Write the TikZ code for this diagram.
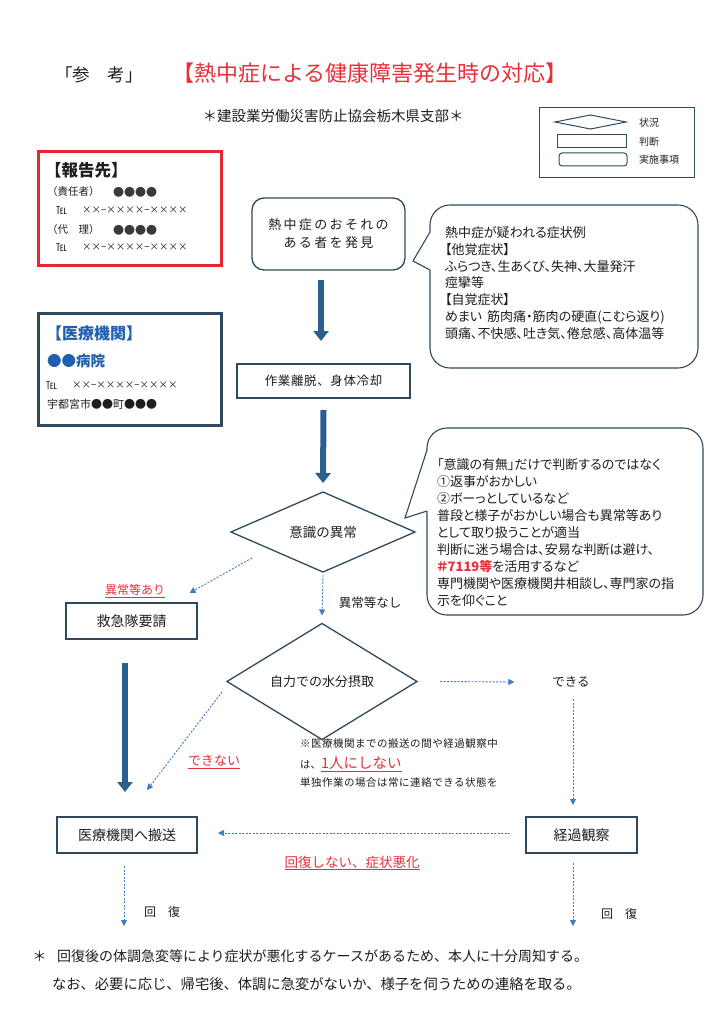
\documentclass[tikz,border=0pt]{standalone}
\usepackage{fontspec}
\setmainfont{Noto Sans CJK JP}
\newfontfamily\pfont[RawFeature=+palt]{Noto Sans CJK JP}
\newfontfamily\wfont[LetterSpace=18]{Noto Sans CJK JP}
\newfontfamily\mfont[LetterSpace=5]{Noto Sans CJK JP}
\usetikzlibrary{arrows.meta,shapes.geometric}
\definecolor{tred}{HTML}{E8303A}
\definecolor{rboxred}{HTML}{E8262F}
\definecolor{tblue}{HTML}{1F5FAF}
\definecolor{frame}{HTML}{2F4A5F}
\definecolor{arrowblue}{HTML}{2B5F8E}
\definecolor{dashblue}{HTML}{3D7DBF}
\definecolor{ink}{HTML}{1E1E1E}
\definecolor{dotgrey}{HTML}{3A3A3A}
\newcommand{\fsz}[2]{\fontsize{#1}{#2}\selectfont}
\begin{document}
\begin{tikzpicture}[x=1pt,y=-1pt,
  every node/.style={inner sep=0pt, outer sep=0pt, text=ink},
  box/.style={draw=frame, line width=1.3pt, fill=white},
  dia/.style={diamond, draw=frame, line width=1.3pt, fill=white},
  bub/.style={draw=frame, line width=1.1pt, fill=white, rounded corners=20pt},
  bubline/.style={draw=frame, line width=1.1pt},
  thickarr/.style={draw=arrowblue, line width=6pt, -{Triangle[width=15pt,length=10pt]}},
  dasharr/.style={draw=dashblue, line width=0.9pt, dash pattern=on 2pt off 1.5pt, -{Triangle[width=6pt,length=6pt]}},
  redlbl/.style={text=tred}
]
\useasboundingbox (0,0) rectangle (726,1024);
\fill[white] (0,0) rectangle (726,1024);

% title
\node[anchor=west, font=\fsz{17.5}{20}] (sanko) at (55,75) {「参　考」};
\node[anchor=west, redlbl, font=\fsz{22}{25}] (title) at (172,73) {【熱中症による健康障害発生時の対応】};
\node[font=\fsz{14.5}{17}] (org) at (333,116) {＊建設業労働災害防止協会栃木県支部＊};

% legend
\node[draw=frame, line width=1pt, minimum width=155pt, minimum height=70pt] (legend) at (616.5,143) {};
\node[diamond, draw=frame, line width=1pt, minimum width=71pt, minimum height=14pt] (lgd) at (590.5,122) {};
\node[draw=frame, line width=1pt, minimum width=69pt, minimum height=13pt] (lgr) at (591.5,141.5) {};
\node[draw=frame, line width=1pt, rounded corners=3pt, minimum width=68pt, minimum height=13pt] (lgs) at (593,159.5) {};
\node[anchor=west, font=\fsz{10}{12}] (lgt1) at (639,123) {状況};
\node[anchor=west, font=\fsz{10}{12}] (lgt2) at (639,142) {判断};
\node[anchor=west, font=\fsz{10}{12}] (lgt3) at (639,160) {実施事項};

% report box
\node[draw=rboxred, line width=3pt, minimum width=183pt, minimum height=113pt] (report) at (129.5,208.5) {};
\node[anchor=west, font=\bfseries\fsz{16.5}{18}] (rh) at (45,170) {【報告先】};
\node[anchor=west, font=\fsz{10.5}{12}] (r1) at (47,192) {（責任者）};
\node[anchor=west, text=dotgrey, font=\fsz{11}{12}] (r1d) at (113,192) {●●●●};
\node[anchor=west, font=\fsz{11}{12}] (r1t) at (56,210) {℡};
\node[anchor=west, font=\fsz{9.5}{10}] (r1n) at (82,210) {××−××××−××××};
\node[anchor=west, font=\fsz{10.5}{12}] (r2) at (47,230) {（代　理）};
\node[anchor=west, text=dotgrey, font=\fsz{11}{12}] (r2d) at (113,230) {●●●●};
\node[anchor=west, font=\fsz{11}{12}] (r2t) at (56,247) {℡};
\node[anchor=west, font=\fsz{9.5}{10}] (r2n) at (82,247) {××−××××−××××};

% medical box
\node[draw=frame, line width=3pt, minimum width=183pt, minimum height=112pt] (medical) at (129.5,369) {};
\node[anchor=west, text=tblue, font=\bfseries\fsz{16}{18}] (mh) at (46,333) {【医療機関】};
\node[anchor=west, text=tblue, font=\bfseries\fsz{14.5}{16}] (mn) at (47,361) {●●病院};
\node[anchor=west, font=\fsz{11}{12}] (mt) at (46,385) {℡};
\node[anchor=west, font=\fsz{9.5}{10}] (mnum) at (72,385) {××−××××−××××};
\node[anchor=west, font=\fsz{11}{12}] (ma) at (47,404) {宇都宮市●●町●●●};

% bubble 1
\draw[bub] (430,205) rectangle (698,368);
\fill[white] (433,232) -- (428,232) -- (413,261) -- (428,270) -- (433,270) -- cycle;
\draw[bubline] (430,232) -- (413,261) -- (430,270);
\node[anchor=west, align=left, font=\pfont\fsz{13}{16.7}] (sym) at (445,283)
 {熱中症が疑われる症状例\\【他覚症状】\\ふらつき、生あくび、失神、大量発汗\\痙攣等\\【自覚症状】\\めまい\hspace{5pt}筋肉痛・筋肉の硬直(こむら返り)\\頭痛、不快感、吐き気、倦怠感、高体温等};

% bubble 2
\draw[bub] (427,428) rectangle (703,615);
\fill[white] (430,450) -- (425,450) -- (405,518) -- (425,511) -- (430,511) -- cycle;
\draw[bubline] (427,450) -- (405,518) -- (427,511);
\node[anchor=west, align=left, font=\pfont\fsz{13}{17}] (ishiki) at (437,532.5)
 {「意識の有無」だけで判断するのではなく\\①返事がおかしい\\②ボーっとしているなど\\普段と様子がおかしい場合も異常等あり\\として取り扱うことが適当\\判断に迷う場合は、安易な判断は避け、\\{\color{tred}\bfseries ＃7119等}を活用するなど\\専門機関や医療機関井相談し、専門家の指\\示を仰ぐこと};

% flow nodes
\node[box, rounded corners=12pt, minimum width=153pt, minimum height=72pt, align=center, font=\wfont\fsz{13}{18}] (start) at (328.5,234) {熱中症のおそれの\\ある者を発見};
\node[box, minimum width=173pt, minimum height=34pt, font=\mfont\fsz{12.5}{15}] (cool) at (323.5,381) {作業離脱、身体冷却};
\node[dia, minimum width=184pt, minimum height=80pt, font=\fsz{13.5}{16}] (consc) at (323,532) {意識の異常};
\node[box, minimum width=131pt, minimum height=36pt, font=\fsz{14}{16}] (kyu) at (131.5,621) {救急隊要請};
\node[dia, minimum width=190pt, minimum height=77pt, font=\fsz{13}{15}] (water) at (322,681.5) {自力での水分摂取};
\node[box, minimum width=140pt, minimum height=36pt, font=\fsz{14}{16}] (hanso) at (127,835) {医療機関へ搬送};
\node[box, minimum width=111pt, minimum height=36pt, font=\fsz{14}{16}] (keika) at (581.5,835) {経過観察};

% labels
\node[redlbl, font=\fsz{12}{14}] (ari) at (135,591) {\underline{異常等あり}};
\node[font=\fsz{12.5}{14}] (nashi) at (370,603) {異常等なし};
\node[font=\fsz{12.5}{14}] (dekiru) at (571,682) {できる};
\node[redlbl, font=\fsz{13}{15}] (dekinai) at (214,762) {\underline{できない}};
\node[anchor=west, font=\mfont\fsz{10.5}{12}] (note1) at (300,744) {※医療機関までの搬送の間や経過観察中};
\node[anchor=west, font=\fsz{10.5}{12}] (note2) at (300,764) {は、{\color{tred}\fsz{14.5}{16}\underline{1人にしない}}};
\node[anchor=west, font=\mfont\fsz{10.5}{12}] (note3) at (300,782) {単独作業の場合は常に連絡できる状態を};
\node[redlbl, font=\fsz{13.5}{15}] (worse) at (352,863) {\underline{回復しない、症状悪化}};
\node[font=\fsz{12}{14}] (rec1) at (162,912) {回　復};
\node[font=\fsz{12}{14}] (rec2) at (619,914) {回　復};
\node[font=\fsz{14}{16}] (ast) at (39.5,956) {＊};
\node[anchor=west, font=\fsz{14}{16}] (foot1) at (57,956) {回復後の体調急変等により症状が悪化するケースがあるため、本人に十分周知する。};
\node[anchor=west, font=\fsz{14.3}{16}] (foot2) at (52,984) {なお、必要に応じ、帰宅後、体調に急変がないか、様子を伺うための連絡を取る。};

\coordinate (r1end) at (124,926);
\coordinate (r2end) at (573,926);

% thick arrows
\draw[thickarr] ([xshift=-7.5pt,yshift=-10pt]start.south) -- ([xshift=-2.5pt,yshift=23pt]cool.north);
\draw[thickarr] ([yshift=-12pt]cool.south) -- ([yshift=9pt]consc.north);
\draw[thickarr] ([xshift=-6.5pt,yshift=-24pt]kyu.south) -- ([xshift=-2pt,yshift=25pt]hanso.north);

% dashed arrows
\draw[dasharr] ([xshift=21pt,yshift=-26pt]consc.west) -- ([xshift=58pt,yshift=10pt]kyu.north);
\draw[dasharr] ([yshift=-3pt]consc.south) -- ([yshift=8pt]water.north);
\draw[dasharr] ([xshift=23pt]water.east) -- ([xshift=-38pt]dekiru.west);
\draw[dasharr] ([xshift=2pt,yshift=-12pt]dekiru.south) -- ([xshift=-8.5pt,yshift=12pt]keika.north);
\draw[dasharr] ([xshift=-5pt,yshift=-10.5pt]water.west) -- ([xshift=20pt,yshift=27pt]hanso.north);
\draw[dasharr] ([xshift=-16pt,yshift=2pt]keika.west) -- ([xshift=21pt,yshift=2pt]hanso.east);
\draw[dasharr] ([xshift=-3pt,yshift=-13pt]hanso.south) -- (r1end);
\draw[dasharr] ([xshift=-8.5pt,yshift=-10pt]keika.south) -- (r2end);
\end{tikzpicture}
\end{document}
